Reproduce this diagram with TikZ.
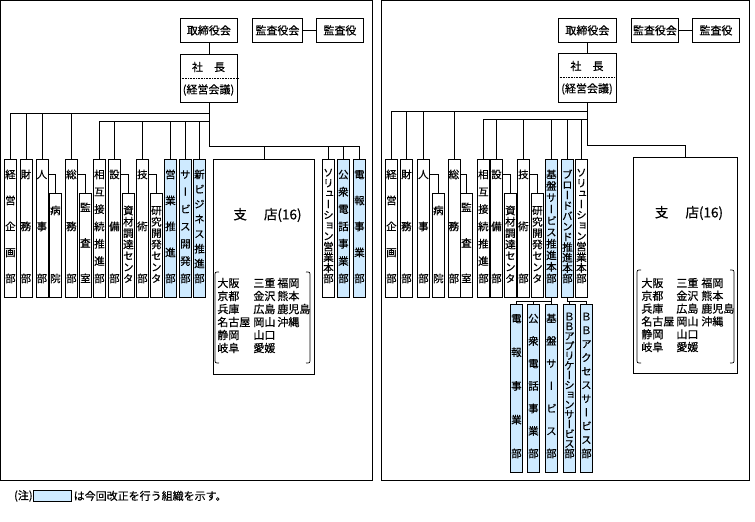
\documentclass[tikz,border=0pt]{standalone}
\usepackage{fontspec}
\setmainfont[FakeBold=0.5,BoldFont={Noto Sans CJK JP}]{Noto Sans CJK JP}
\newfontfamily\vjp[RawFeature=+vert,FakeBold=0.5]{Noto Sans CJK JP}
\definecolor{bluefill}{RGB}{206,234,255}
\def\vendmark{VEND}
\newcommand\vch[1]{\hbox to 12pt{\hss\smash{\raisebox{-0.38em}{#1}}\hss}}
\def\vfirst#1{\vch{#1}\vcharsloop}
\def\vcharsloop#1{\ifx\vendmark#1\else\vfill\vch{#1}\expandafter\vcharsloop\fi}
\newcommand\vcol[4]{\vbox to #1{\offinterlineskip\vskip #2\relax\vfirst#4\vendmark\vskip #3\relax}}
\begin{document}
\begin{tikzpicture}[x=1pt,y=-1pt,line width=0.8pt,
  tb/.style={draw, fill=white, inner sep=0pt, anchor=north west, minimum height=24pt, font=\fontsize{11}{13}\selectfont},
  txt/.style={inner sep=0pt, font=\fontsize{11}{13}\selectfont},
  shiten/.style={inner sep=0pt, font=\fontsize{13.5}{15}\selectfont},
  rowtxt/.style={inner sep=0pt, anchor=west, font=\fontsize{11}{13}\selectfont},
  vb/.style={draw, fill=white, inner sep=0pt, anchor=north west, font=\vjp\fontsize{10.5}{11}\selectfont},
  bb/.style={vb, fill=bluefill},
  big/.style={draw, fill=white, inner sep=0pt, anchor=north west},
  dots/.style={line width=0.6pt, dash pattern=on 0.8pt off 0.8pt},
  brk/.style={line width=0.7pt}]
\useasboundingbox (0,0) rectangle (755,522);
\fill[white] (0,0) rectangle (755,522);
% panel frames
\draw (0.5,0.5) rectangle (372,480);
\draw (381,0.5) rectangle (749.5,480);

%================ LEFT PANEL =================
\node[tb, minimum width=57pt] (Lt) at (180,18) {取締役会};
\node[tb, minimum width=50pt] (La) at (252,18) {監査役会};
\node[tb, minimum width=47pt] (Lb) at (316,18) {監査役};
\node[tb, minimum width=57pt, minimum height=48pt] (Lp) at (180,54) {};
\node[txt] (Lp1) at (208.5,67) {社　長};
\node[txt] (Lp2) at (208.5,90) {(経営会議)};
\draw[dots] (Lp.west |- 0,78) -- (Lp.east |- 0,78);
\draw (Lt.south) -- (Lp.north);
\draw (La.east) -- (Lb.west);

\coordinate (Lh1) at (0,113);
\coordinate (Lh2) at (0,121);
\coordinate (Lh3) at (0,146);
\coordinate (Lhc) at (0,174);

\node[vb] (L1) at (4,159) {\vcol{138pt}{15pt}{19pt}{経営企画部}};
\node[vb] (L2) at (19.5,159) {\vcol{138pt}{15pt}{19pt}{財務部}};
\node[vb] (L3) at (35.5,159) {\vcol{138pt}{15pt}{19pt}{人事部}};
\node[vb] (L3c) at (49,193) {\vcol{104pt}{17pt}{19pt}{病院}};
\node[vb] (L4) at (65,159) {\vcol{138pt}{15pt}{19pt}{総務部}};
\node[vb] (L4c) at (79,193) {\vcol{104pt}{14pt}{19pt}{監査室}};
\node[vb] (L5) at (93,159) {\vcol{138pt}{15pt}{19pt}{相互接続推進部}};
\node[vb] (L6) at (108,159) {\vcol{138pt}{15pt}{19pt}{設備部}};
\node[vb] (L6c) at (122,193) {\vcol{104pt}{17pt}{19pt}{資材調達センタ}};
\node[vb] (L7) at (136,159) {\vcol{138pt}{15pt}{19pt}{技術部}};
\node[vb] (L7c) at (150,193) {\vcol{104pt}{17pt}{19pt}{研究開発センタ}};
\node[bb] (L8) at (164,159) {\vcol{138pt}{15pt}{19pt}{営業推進部}};
\node[bb] (L9) at (179,159) {\vcol{138pt}{15pt}{19pt}{サービス開発部}};
\node[bb] (L10) at (193,159) {\vcol{138pt}{15pt}{19pt}{新ビジネス推進部}};
\node[big, minimum width=101pt, minimum height=215pt] (L11) at (213,159) {};
\node[vb] (L12) at (322,159) {\vcol{138pt}{13pt}{19pt}{ソリューション営業本部}};
\node[bb] (L13) at (337,159) {\vcol{138pt}{15pt}{19pt}{公衆電話事業部}};
\node[bb] (L14) at (353,159) {\vcol{138pt}{15pt}{19pt}{電報事業部}};

\node[shiten] (L11t) at (267.5,215) {支\hspace{17pt}店(16)};
\foreach \a/\b/\c [count=\i] in {大阪/三重/福岡, 京都/金沢/熊本, 兵庫/広島/鹿児島, 名古屋/岡山/沖縄, 静岡/山口/{}, 岐阜/愛媛/{}}
  \node[rowtxt] (L11r\i) at (217,{283+13*(\i-1)}) {\makebox[36pt][l]{\a}\makebox[24pt][l]{\b}\c};
\draw[brk] (219,272) .. controls (215,272) .. (215,276) -- (215,359) .. controls (215,363) .. (219,363);
\draw[brk] (306,272) .. controls (310,272) .. (310,276) -- (310,359) .. controls (310,363) .. (306,363);

\draw (L1.north) |- (Lp.south |- Lh1);
\draw (Lp.south) -- (Lp.south |- Lh3) -| (L14.north);
\foreach \n in {L2,L3,L4} \draw (\n.north) -- (\n.north |- Lh1);
\draw (L5.north) |- (Lp.south |- Lh2);
\foreach \n in {L6,L7,L8,L9,L10} \draw (\n.north) -- (\n.north |- Lh2);
\foreach \n in {L11,L12,L13} \draw (\n.north) -- (\n.north |- Lh3);
\foreach \p/\c in {L3/L3c,L4/L4c,L6/L6c,L7/L7c} \draw (\p.east |- Lhc) -| (\c.north);

%================ RIGHT PANEL =================
\node[tb, minimum width=58pt] (Rt) at (558,18) {取締役会};
\node[tb, minimum width=47pt] (Ra) at (631,18) {監査役会};
\node[tb, minimum width=47pt] (Rb) at (692,18) {監査役};
\node[tb, minimum width=58pt, minimum height=49pt] (Rp) at (558,53) {};
\node[txt] (Rp1) at (587,66) {社　長};
\node[txt] (Rp2) at (587,89) {(経営会議)};
\draw[dots] (Rp.west |- 0,77) -- (Rp.east |- 0,77);
\draw (Rt.south) -- (Rp.north);
\draw (Ra.east) -- (Rb.west);

\coordinate (Rh1) at (0,111);
\coordinate (Rh2) at (0,119);
\coordinate (Rh3) at (0,145);
\coordinate (Rhc) at (0,174);
\coordinate (Rh4) at (0,301);

\node[vb] (R1) at (385,159) {\vcol{138pt}{15pt}{19pt}{経営企画部}};
\node[vb] (R2) at (400,159) {\vcol{138pt}{15pt}{19pt}{財務部}};
\node[vb] (R3) at (417,159) {\vcol{138pt}{15pt}{19pt}{人事部}};
\node[vb] (R3c) at (432,193) {\vcol{104pt}{17pt}{19pt}{病院}};
\node[vb] (R4) at (447.5,159) {\vcol{138pt}{15pt}{19pt}{総務部}};
\node[vb] (R4c) at (460,193) {\vcol{104pt}{14pt}{19pt}{監査室}};
\node[vb] (R5) at (477,159) {\vcol{138pt}{15pt}{19pt}{相互接続推進部}};
\node[vb] (R6) at (490,159) {\vcol{138pt}{15pt}{19pt}{設備部}};
\node[vb] (R6c) at (504,193) {\vcol{104pt}{17pt}{19pt}{資材調達センタ}};
\node[vb] (R7) at (517,159) {\vcol{138pt}{15pt}{19pt}{技術部}};
\node[vb] (R7c) at (531,193) {\vcol{104pt}{17pt}{19pt}{研究開発センタ}};
\node[bb] (R8) at (545,159) {\vcol{138pt}{15pt}{19pt}{基盤サービス推進本部}};
\node[bb] (R9) at (561,159) {\vcol{138pt}{15pt}{19pt}{ブロードバンド推進本部}};
\node[vb] (R10) at (575,159) {\vcol{138pt}{13pt}{19pt}{ソリューション営業本部}};
\node[big, minimum width=104pt, minimum height=216pt] (R11) at (633,157) {};
\node[bb] (R8a) at (510,304) {\vcol{168pt}{14pt}{19pt}{電報事業部}};
\node[bb] (R8b) at (527,304) {\vcol{168pt}{14pt}{19pt}{公衆電話事業部}};
\node[bb] (R8c) at (545,304) {\vcol{168pt}{14pt}{19pt}{基盤サービス部}};
\node[bb] (R9a) at (563,304) {\vcol{168pt}{12pt}{19pt}{ＢＢアプリケーションサービス部}};
\node[bb] (R9b) at (580,304) {\vcol{168pt}{12pt}{19pt}{ＢＢアクセスサービス部}};

\node[shiten] (R11t) at (689,213) {支\hspace{17pt}店(16)};
\foreach \a/\b/\c [count=\i] in {大阪/三重/福岡, 京都/金沢/熊本, 兵庫/広島/鹿児島, 名古屋/岡山/沖縄, 静岡/山口/{}, 岐阜/愛媛/{}}
  \node[rowtxt] (R11r\i) at (641,{283+12.8*(\i-1)}) {\makebox[35pt][l]{\a}\makebox[25pt][l]{\b}\c};
\draw[brk] (641,270) .. controls (637,270) .. (637,274) -- (637,359) .. controls (637,363) .. (641,363);
\draw[brk] (730,270) .. controls (734,270) .. (734,274) -- (734,359) .. controls (734,363) .. (730,363);

\draw (R1.north) |- (Rp.south |- Rh1);
\draw (Rp.south) -- (Rp.south |- Rh3) -| (R11.north);
\foreach \n in {R2,R3,R4} \draw (\n.north) -- (\n.north |- Rh1);
\draw (R5.north) |- (Rp.south |- Rh2);
\foreach \n in {R6,R7,R8,R9,R10} \draw (\n.north) -- (\n.north |- Rh2);
\foreach \p/\c in {R3/R3c,R4/R4c,R6/R6c,R7/R7c} \draw (\p.east |- Rhc) -| (\c.north);
\draw (R8.south) -- (R8.south |- Rh4) -| (R8a.north);
\foreach \n in {R8b,R8c} \draw (\n.north) -- (\n.north |- Rh4);
\draw (R9.south) |- (R9b.north |- Rh4) -- (R9b.north);
\draw (R9a.north) -- (R9a.north |- Rh4);

%================ LEGEND =================
\node[draw, fill=bluefill, inner sep=0pt, minimum width=38pt, minimum height=11pt, anchor=north west] (leg) at (33,490) {};
\node[txt, anchor=east] (legn) at (leg.west) {(注)};
\node[txt, anchor=west, xshift=1.5pt] (legt) at (leg.east) {は今回改正を行う組織を示す。};
\end{tikzpicture}
\end{document}
